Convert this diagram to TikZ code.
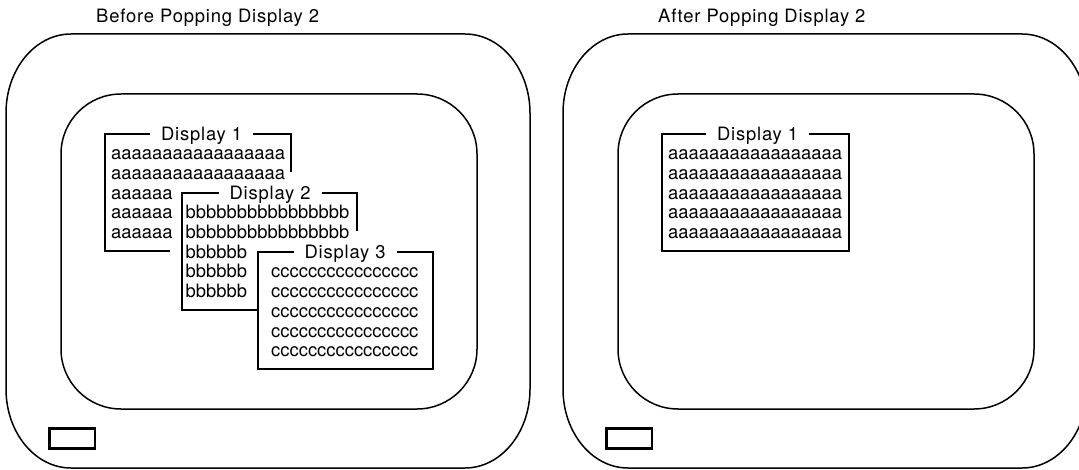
\documentclass[tikz,border=0pt]{standalone}
\usepackage{fontspec}
\setmainfont{TeX Gyre Heros}
\newfontfamily\spacedfont[LetterSpace=4.5]{TeX Gyre Heros}
\newcommand\rowfont{\fontsize{18.4pt}{19.7pt}\selectfont}
\newcommand\labfont{\spacedfont\fontsize{18.4pt}{19.7pt}\selectfont}
\begin{document}
\begin{tikzpicture}[x=1pt,y=-1pt,
  frame/.style={line width=1.5pt},
  oarc/.style={x radius=65pt,y radius=79pt},
  screen/.style={line width=1.5pt,rounded corners=60pt},
  win/.style={line width=2pt},
  rowtxt/.style={anchor=base west,inner sep=0pt,font=\rowfont},
  wtitle/.style={anchor=base,fill=white,inner xsep=11pt,inner ysep=2pt,font=\labfont},
  ptitle/.style={anchor=base west,inner sep=0pt,font=\labfont},
  button/.style={line width=2.5pt}]
\useasboundingbox (0,0) rectangle (1079,470);
\clip (0,0) rectangle (1079,470);

% panel titles
\node[ptitle] (tleft) at (96,22.7) {Before Popping Display 2};
\node[ptitle] (tright) at (658,22.7) {After Popping Display 2};

% monitor frames
\foreach \s in {0,557}{
\begin{scope}[xshift=\s pt]
\draw[frame] (71,34) -- (465,34) arc[oarc,start angle=90,end angle=0]
  -- (530,389) arc[oarc,start angle=0,end angle=-90]
  -- (71,468) arc[oarc,start angle=270,end angle=180]
  -- (6,113) arc[oarc,start angle=180,end angle=90] -- cycle;
\draw[screen] (61,94) rectangle (477,409);
\draw[button] (49.3,428.3) rectangle (95,448.3);
\end{scope}}

% ---------- left panel: Display 1 ----------
\draw[win] (170,250.7) -- (105,250.7) -- (105,134) -- (291,134) -- (291,171.7);
\node[wtitle] (d1t) at (201.5,140.7) {Display 1};
\node[rowtxt] (a1) at (111,159.8) {aaaaaaaaaaaaaaaaa};
\node[rowtxt] (a2) at (111,179.5) {aaaaaaaaaaaaaaaaa};
\node[rowtxt] (a3) at (111,199.2) {aaaaaa};
\node[rowtxt] (a4) at (111,218.9) {aaaaaa};
\node[rowtxt] (a5) at (111,238.6) {aaaaaa};

% ---------- Display 2 ----------
\draw[win] (257.7,310) -- (181.7,310) -- (181.7,193.3) -- (356.7,193.3) -- (356.7,230.7);
\node[wtitle] (d2t) at (270,199.9) {Display 2};
\node[rowtxt] (b1) at (185.5,218.9) {bbbbbbbbbbbbbbbb};
\node[rowtxt] (b2) at (185.5,238.6) {bbbbbbbbbbbbbbbb};
\node[rowtxt] (b3) at (185.5,258.3) {bbbbbb};
\node[rowtxt] (b4) at (185.5,278.0) {bbbbbb};
\node[rowtxt] (b5) at (185.5,297.7) {bbbbbb};

% ---------- Display 3 ----------
\draw[win] (257.7,251.7) rectangle (433.3,369.3);
\node[wtitle] (d3t) at (345,258.3) {Display 3};
\node[rowtxt] (c1) at (271,278.0) {cccccccccccccccc};
\node[rowtxt] (c2) at (271,297.7) {cccccccccccccccc};
\node[rowtxt] (c3) at (271,317.4) {cccccccccccccccc};
\node[rowtxt] (c4) at (271,337.1) {cccccccccccccccc};
\node[rowtxt] (c5) at (271,356.8) {cccccccccccccccc};

% ---------- right panel: Display 1 ----------
\draw[win] (662,134) rectangle (848.7,251);
\node[wtitle] (r1t) at (757.5,140.7) {Display 1};
\node[rowtxt] (ra1) at (668,159.8) {aaaaaaaaaaaaaaaaa};
\node[rowtxt] (ra2) at (668,179.5) {aaaaaaaaaaaaaaaaa};
\node[rowtxt] (ra3) at (668,199.2) {aaaaaaaaaaaaaaaaa};
\node[rowtxt] (ra4) at (668,218.9) {aaaaaaaaaaaaaaaaa};
\node[rowtxt] (ra5) at (668,238.6) {aaaaaaaaaaaaaaaaa};
\end{tikzpicture}
\end{document}
